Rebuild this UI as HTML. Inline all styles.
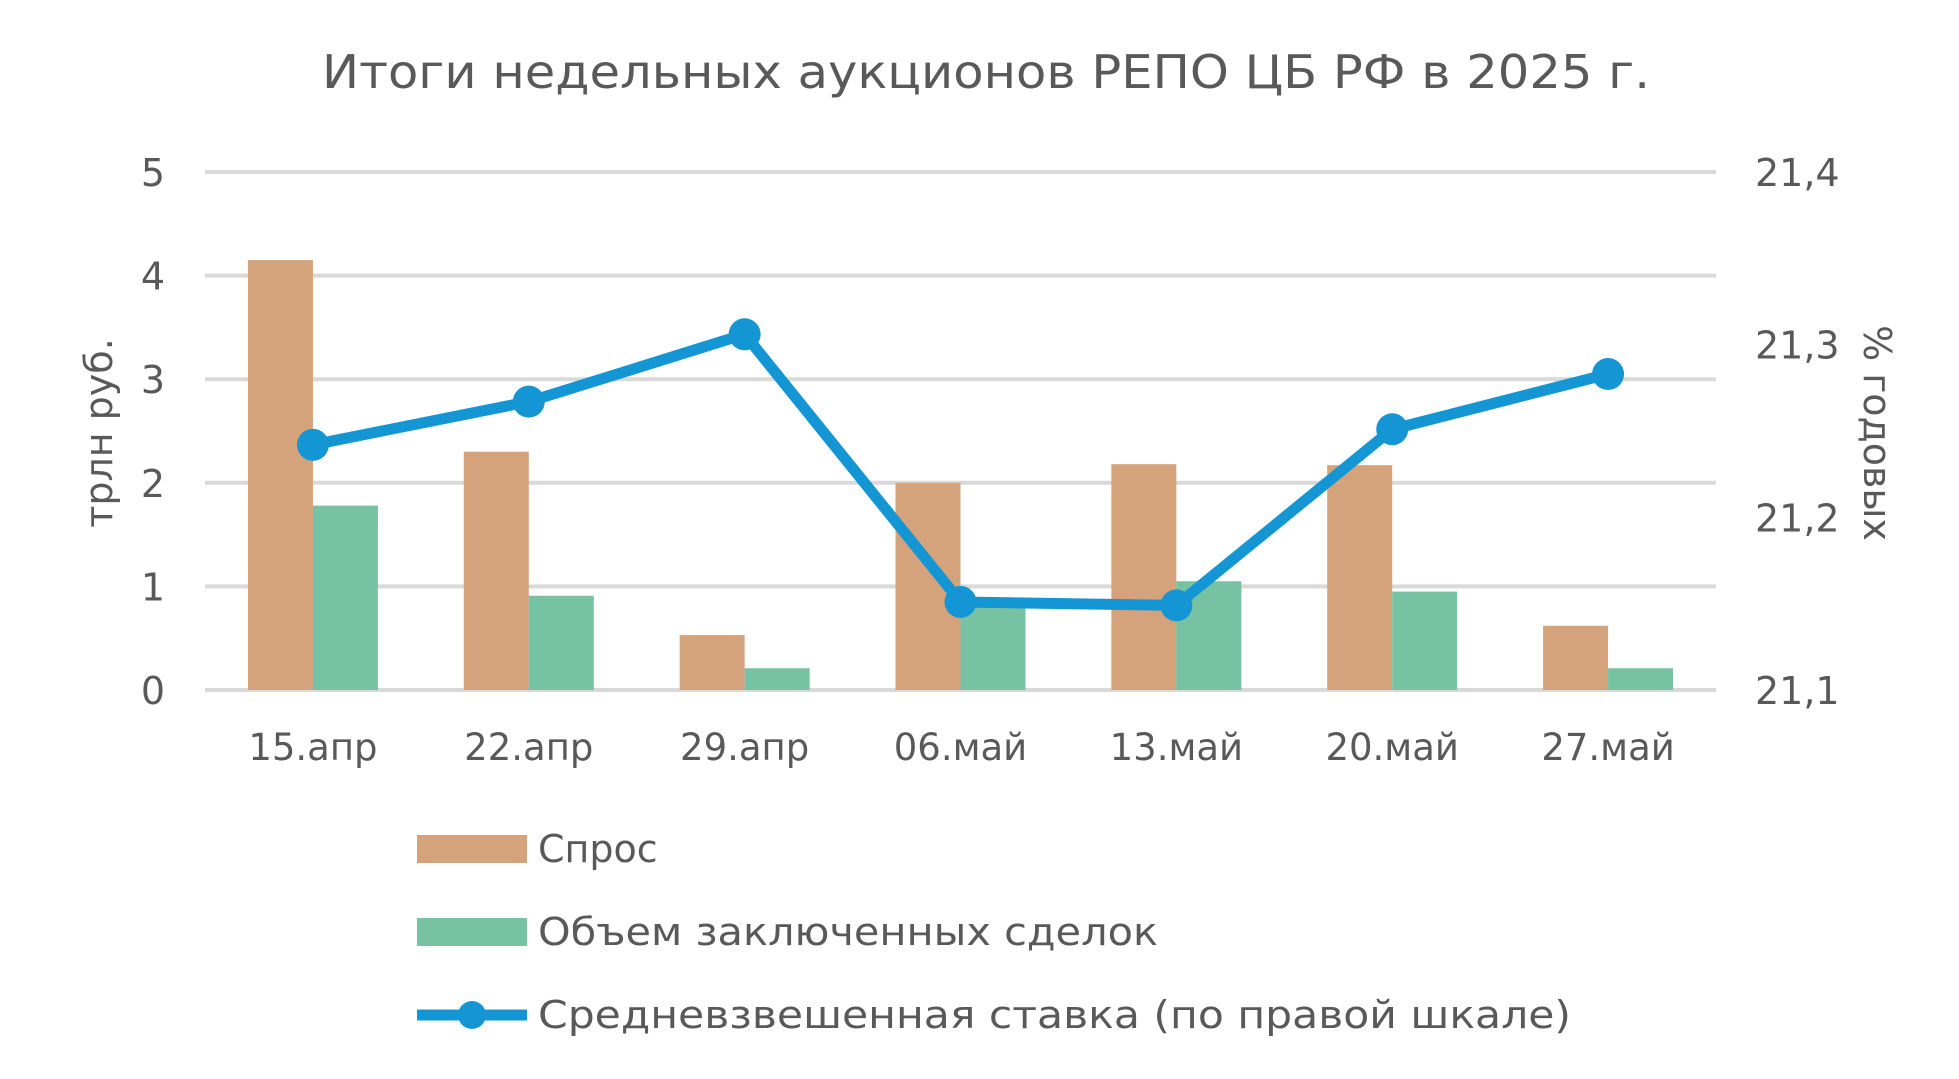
<!DOCTYPE html>
<html><head><meta charset="utf-8"><style>
html,body{margin:0;padding:0;background:#fff;}
svg{display:block;font-family:"DejaVu Sans","Liberation Sans",sans-serif;}
</style></head><body>
<svg id="chart" width="1959" height="1079" viewBox="0 0 1959 1079">
<text x="986" y="88" text-anchor="middle" font-size="46" fill="#595959" textLength="1328" lengthAdjust="spacingAndGlyphs">Итоги недельных аукционов РЕПО ЦБ РФ в 2025 г.</text>
<g id="grid"></g><g id="bars"></g><g id="line"></g><g id="axes"></g>
<text transform="translate(112,433) rotate(-90)" text-anchor="middle" font-size="38" fill="#595959">трлн руб.</text>
<text transform="translate(1864,433) rotate(90)" text-anchor="middle" font-size="38" fill="#595959">% годовых</text>
<g>
<rect x="417" y="835" width="110" height="28" fill="#D4A37C"/>
<text x="538" y="862" font-size="38" fill="#595959">Спрос</text>
<rect x="417" y="918" width="110" height="28" fill="#78C2A4"/>
<text x="538" y="945" font-size="38" fill="#595959" textLength="620" lengthAdjust="spacingAndGlyphs">Объем заключенных сделок</text>
<line x1="417" y1="1015" x2="527" y2="1015" stroke="#1596D4" stroke-width="11"/>
<circle cx="472" cy="1015" r="14" fill="#1596D4"/>
<text x="538" y="1028" font-size="38" fill="#595959" textLength="1033" lengthAdjust="spacingAndGlyphs">Средневзвешенная ставка (по правой шкале)</text>
</g>
</svg>
<script>
const categories=["15.апр","22.апр","29.апр","06.май","13.май","20.май","27.май"];
const demand=[4.15,2.3,0.53,2.0,2.18,2.17,0.62];
const volume=[1.78,0.91,0.21,0.83,1.05,0.95,0.21];
const rate=[21.242,21.267,21.306,21.151,21.149,21.251,21.283];
const leftTicks=[0,1,2,3,4,5];
const rightTicks=["21,1","21,2","21,3","21,4"];
const rightTickVals=[21.1,21.2,21.3,21.4];
const NS="http://www.w3.org/2000/svg";
const X0=205,X1=1716,Y0=690,Y5=172;
const band=(X1-X0)/categories.length;
const xc=i=>X0+band*(i+0.5);
const yL=v=>Y0-(v/5)*(Y0-Y5);
const yR=v=>Y0-((v-21.1)/0.3)*(Y0-Y5);
function mk(tag,attrs,parent){const e=document.createElementNS(NS,tag);for(const k in attrs)e.setAttribute(k,attrs[k]);document.getElementById(parent).appendChild(e);return e;}
leftTicks.forEach(t=>{
 const g=mk("line",{x1:X0,x2:X1,y1:yL(t),y2:yL(t),stroke:"#D9D9D9","stroke-width":4},"grid");
 
 
 const l=mk("text",{x:165,y:yL(t)+14,"text-anchor":"end","font-size":38,fill:"#595959"},"axes");
 l.textContent=t;
 
 
});
rightTicks.forEach((t,i)=>{
 const l=mk("text",{x:1755,y:yR(rightTickVals[i])+14,"font-size":38,fill:"#595959"},"axes");
 l.textContent=t;
 
 
});
const bw=65;
categories.forEach((c,i)=>{
 const b1=mk("rect",{x:xc(i)-bw,y:yL(demand[i]),width:bw,height:Y0-yL(demand[i]),fill:"#D4A37C"},"bars");
 
 
 const b2=mk("rect",{x:xc(i),y:yL(volume[i]),width:bw,height:Y0-yL(volume[i]),fill:"#78C2A4"},"bars");
 
 
 const l=mk("text",{x:xc(i),y:760,"text-anchor":"middle","font-size":37,fill:"#595959"},"axes");
 l.textContent=c;
 
 
});
const pts=rate.map((v,i)=>xc(i)+","+yR(v)).join(" ");
const pl=mk("polyline",{points:pts,fill:"none",stroke:"#1596D4","stroke-width":11,"stroke-linejoin":"round"},"line");


rate.forEach((v,i)=>{
 const c=mk("circle",{cx:xc(i),cy:yR(v),r:16,fill:"#1596D4"},"line");
 
 
});
</script>
</body></html>
